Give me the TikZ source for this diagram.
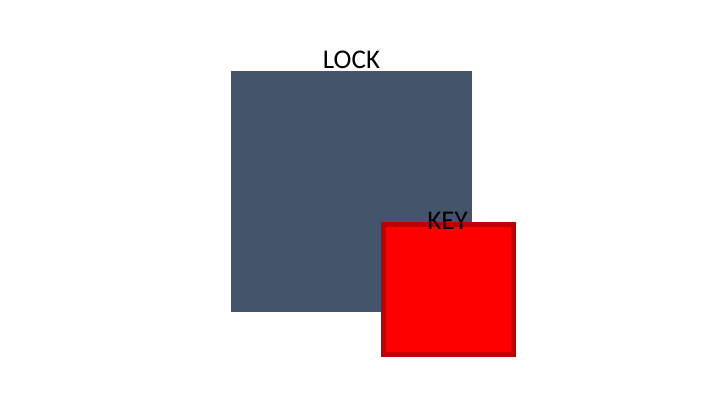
\documentclass[tikz,border=0pt]{standalone}
\usepackage{fontspec}
\setmainfont{Carlito}
\usepackage{tikz}
\usetikzlibrary{positioning}
\definecolor{slate}{HTML}{44546A}
\definecolor{keyred}{HTML}{FF0000}
\definecolor{keyrim}{HTML}{C00000}

\begin{document}
\begin{tikzpicture}[x=1pt,y=-1pt,
    tag/.style={anchor=base,inner sep=0pt,font=\fontsize{27}{31}\selectfont},
    lockbox/.style={fill=slate,minimum size=241pt,inner sep=0pt},
    keybox/.style={fill=keyred,draw=keyrim,line width=5pt,minimum size=130pt,inner sep=0pt}]
  \useasboundingbox (0,0) rectangle (720,405);
  \node[lockbox] (lock) at (351.5,191.5) {};
  \node[tag,above=2pt of lock.north,anchor=base] (locktag) {LOCK};
  \node[keybox] (key) at (448.5,289) {};
  \node[tag,below=8pt of key.north,anchor=base,xshift=-1pt] (keytag) {KEY};
\end{tikzpicture}
\end{document}
